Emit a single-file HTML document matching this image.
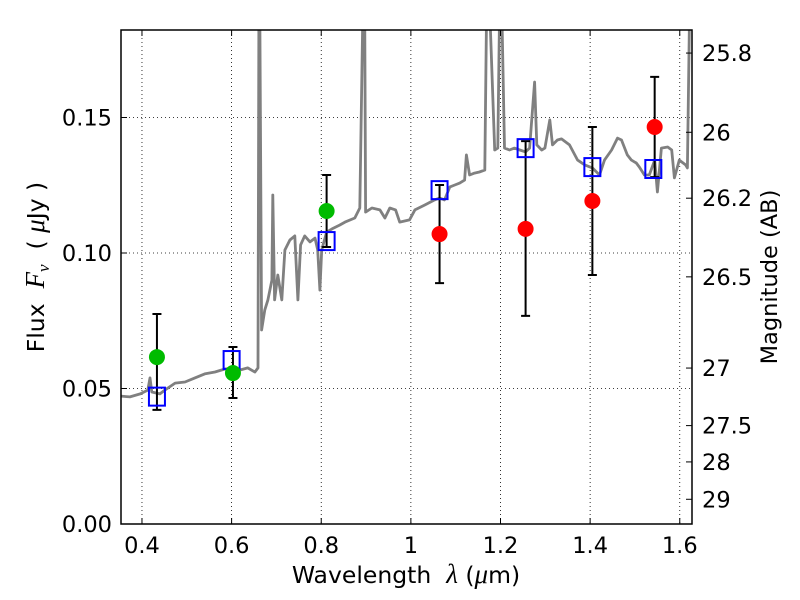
<!DOCTYPE html>
<html><head><meta charset="utf-8"><style>
html,body{margin:0;padding:0;background:#fff;}
svg{display:block;font-family:"DejaVu Sans","Liberation Sans",sans-serif;}
</style></head><body>
<svg id="chart" width="800" height="600" viewBox="0 0 800 600" xmlns="http://www.w3.org/2000/svg">
<defs><clipPath id="clip"><rect x="121" y="30" width="571" height="494"/></clipPath></defs>
<g id="grid"></g>
<g id="plot" clip-path="url(#clip)"></g>
<rect x="121" y="30" width="571" height="494" fill="none" stroke="#000" stroke-width="1.5"/>
<g id="axes"></g>
<text x="406" y="583" font-size="23.5" text-anchor="middle">Wavelength&#160;&#160;<tspan font-style="italic" font-family="Liberation Serif, serif" font-size="27">λ</tspan> (<tspan font-style="italic" font-family="Liberation Serif, serif" font-size="27">μ</tspan>m)</text>
<text transform="translate(44,267) rotate(-90)" font-size="23.5" text-anchor="middle">Flux&#160;&#160;<tspan font-style="italic" font-family="Liberation Serif, serif" font-size="27">F<tspan font-size="17" dy="5">ν</tspan></tspan><tspan dy="-5">&#160;&#160;( </tspan><tspan font-style="italic" font-family="Liberation Serif, serif" font-size="27">μ</tspan>Jy )</text>
<text transform="translate(777,277) rotate(-90)" font-size="22.5" text-anchor="middle">Magnitude (AB)</text>
</svg>
<script>
const specLam=[0.353,0.373,0.396,0.413,0.418,0.422,0.440,0.451,0.474,0.496,0.518,0.540,0.563,0.585,0.607,0.618,0.636,0.652,0.659,0.661,0.663,0.667,0.674,0.681,0.690,0.692,0.696,0.703,0.712,0.719,0.730,0.741,0.748,0.754,0.763,0.775,0.786,0.792,0.797,0.801,0.812,0.824,0.841,0.853,0.875,0.886,0.893,0.897,0.899,0.913,0.931,0.942,0.953,0.966,0.975,0.997,1.009,1.031,1.053,1.064,1.075,1.087,1.098,1.109,1.120,1.124,1.131,1.142,1.153,1.165,1.169,1.176,1.187,1.194,1.198,1.203,1.209,1.220,1.231,1.243,1.256,1.265,1.276,1.281,1.292,1.299,1.310,1.316,1.327,1.336,1.354,1.372,1.388,1.405,1.421,1.432,1.448,1.461,1.470,1.483,1.492,1.503,1.510,1.521,1.532,1.544,1.550,1.559,1.573,1.582,1.588,1.599,1.613,1.617,1.622,1.63];
const specFlux=[0.0472,0.0469,0.0480,0.0494,0.0539,0.0487,0.0480,0.0494,0.0520,0.0524,0.0539,0.0554,0.0561,0.0572,0.0576,0.0568,0.0576,0.0561,0.0576,0.19,0.19,0.0716,0.0790,0.0827,0.0900,0.1214,0.0827,0.0919,0.0827,0.1011,0.1048,0.1063,0.0827,0.1030,0.1063,0.1041,0.1055,0.1011,0.0863,0.1011,0.1077,0.1089,0.1103,0.1114,0.1129,0.1166,0.19,0.19,0.1151,0.1166,0.1159,0.1129,0.1166,0.1159,0.1114,0.1122,0.1159,0.1177,0.1196,0.1203,0.1196,0.1244,0.1251,0.1258,0.1269,0.1362,0.1288,0.1295,0.1299,0.1306,0.19,0.19,0.1380,0.1387,0.19,0.19,0.1387,0.1380,0.1387,0.1380,0.1373,0.1387,0.1631,0.1399,0.1380,0.1387,0.1491,0.1399,0.1417,0.1421,0.1399,0.1343,0.1325,0.1314,0.1288,0.1343,0.1380,0.1424,0.1417,0.1362,0.1343,0.1332,0.1317,0.1288,0.1288,0.1343,0.1225,0.1387,0.1391,0.1380,0.1277,0.1343,0.1325,0.1314,0.19,0.19];
const greenLam=[0.4334,0.603,0.812];
const greenFlux=[0.0616,0.0557,0.1155];
const redLam=[1.064,1.256,1.405,1.544];
const redFlux=[0.107,0.1089,0.1192,0.1465];
const sqLam=[0.4334,0.600,0.812,1.064,1.256,1.405,1.541];
const sqFlux=[0.047,0.0605,0.1044,0.1232,0.1387,0.1317,0.131];
const errLam=[0.4334,0.603,0.812,1.064,1.256,1.405,1.544];
const errLo=[0.0421,0.0465,0.1022,0.0889,0.0768,0.0919,0.128];
const errHi=[0.0775,0.0653,0.1288,0.1251,0.1413,0.1465,0.165];
const xTicks=[0.4,0.6,0.8,1.0,1.2,1.4,1.6];
const xTickLabels=["0.4","0.6","0.8","1","1.2","1.4","1.6"];
const yTicks=[0,0.05,0.10,0.15];
const yTickLabels=["0.00","0.05","0.10","0.15"];
const magTicks=[25.8,26,26.2,26.5,27,27.5,28,29];
const magTickLabels=["25.8","26","26.2","26.5","27","27.5","28","29"];

const X0=121,X1=692,Y0=524,Y1=30;
const xmin=0.3532,xmax=1.6273,ymin=0,ymax=0.18229;
function xs(v){return X0+(v-xmin)/(xmax-xmin)*(X1-X0);}
function ys(v){return Y0-(v-ymin)/(ymax-ymin)*(Y0-Y1);}
function magToFlux(m){return Math.pow(10,-0.4*(m-23.9));}
const NS="http://www.w3.org/2000/svg";
function mk(tag,attrs,parent){const e=document.createElementNS(NS,tag);for(const k in attrs)e.setAttribute(k,attrs[k]);parent.appendChild(e);return e;}
const grid=document.getElementById('grid'),plot=document.getElementById('plot'),axes=document.getElementById('axes');
const FS=22.5;
xTicks.forEach((t,i)=>{
  const x=xs(t);
  let g=mk('line',{x1:x,x2:x,y1:Y1,y2:Y0,stroke:'#000','stroke-width':0.8,'stroke-dasharray':'1,3'},grid);
  
  
  let tk=mk('path',{d:`M${x},${Y0}v-6M${x},${Y1}v6`,stroke:'#000','stroke-width':1},axes);
  
  
  let lb=mk('text',{x:x,y:Y0+29,'font-size':FS,'text-anchor':'middle'},axes);
  lb.textContent=xTickLabels[i];
  
  
});
yTicks.forEach((t,i)=>{
  const y=ys(t);
  if(t>0){let g=mk('line',{x1:X0,x2:X1,y1:y,y2:y,stroke:'#000','stroke-width':0.8,'stroke-dasharray':'1,3'},grid);
  
  }
  let tk=mk('path',{d:`M${X0},${y}h6`,stroke:'#000','stroke-width':1},axes);
  
  
  let lb=mk('text',{x:X0-9,y:y+8,'font-size':FS,'text-anchor':'end'},axes);
  lb.textContent=yTickLabels[i];
  
  
});
magTicks.forEach((m,i)=>{
  const y=ys(magToFlux(m));
  let tk=mk('path',{d:`M${X1},${y}h-6`,stroke:'#000','stroke-width':1},axes);
  
  
  let lb=mk('text',{x:X1+10,y:y+8,'font-size':FS,'text-anchor':'start'},axes);
  lb.textContent=magTickLabels[i];
  
  
});

let d=specLam.map((l,i)=>(i?'L':'M')+xs(l).toFixed(1)+','+ys(specFlux[i]).toFixed(1)).join('');
let sp=mk('path',{d:d,fill:'none',stroke:'#808080','stroke-width':2.8,'stroke-linejoin':'round'},plot);



errLam.forEach((l,i)=>{
  const x=xs(l),ya=ys(errLo[i]),yb=ys(errHi[i]);
  let e=mk('path',{d:`M${x},${ya}V${yb}M${x-4.5},${ya}h9M${x-4.5},${yb}h9`,stroke:'#000','stroke-width':2,fill:'none'},plot);
  
  
});
sqLam.forEach((l,i)=>{
  let s=mk('rect',{x:xs(l)-8,y:ys(sqFlux[i])-9,width:16,height:18,fill:'none',stroke:'#0000ff','stroke-width':2},plot);
  
  
});
greenLam.forEach((l,i)=>{
  let c=mk('circle',{cx:xs(l),cy:ys(greenFlux[i]),r:8,fill:'#00bb00'},plot);
  
  
});
redLam.forEach((l,i)=>{
  let c=mk('circle',{cx:xs(l),cy:ys(redFlux[i]),r:8,fill:'#ff0000'},plot);
  
  
});
</script>
</body></html>
